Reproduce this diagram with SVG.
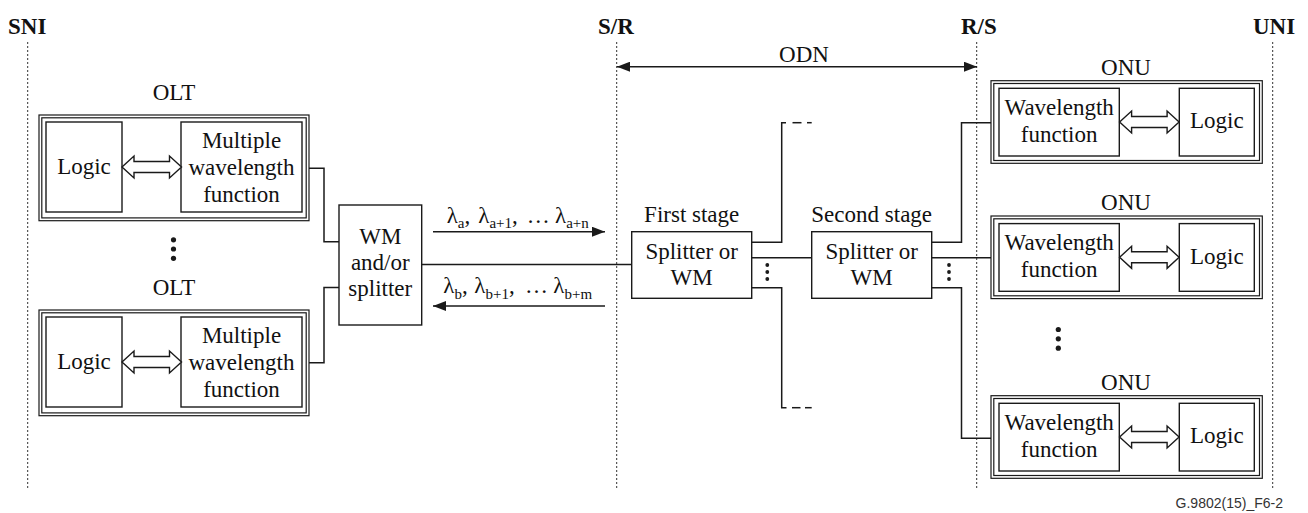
<svg xmlns="http://www.w3.org/2000/svg" xmlns:xlink="http://www.w3.org/1999/xlink" width="1308" height="513" viewBox="0 0 1308 513">
<style>
  .t{font-family:"Liberation Serif","Times New Roman",serif;font-size:23px;fill:#111;text-anchor:middle}
  .h{font-family:"Liberation Serif","Times New Roman",serif;font-size:23px;font-weight:bold;fill:#111}
  .l{font-family:"Liberation Serif","Times New Roman",serif;font-size:23px;fill:#111}
  .s{font-size:15px}
  .box{fill:#fff;stroke:#1a1a1a;stroke-width:1.4}
  .bx2{fill:none;stroke:#1a1a1a;stroke-width:1.2}
  .ln{fill:none;stroke:#1a1a1a;stroke-width:1.5}
  .dot{fill:none;stroke:#333;stroke-width:1;stroke-dasharray:2,2}
  .dbl{fill:#fff;stroke:#1a1a1a;stroke-width:1.4;stroke-linejoin:miter}
  .fn{font-family:"Liberation Sans",Arial,sans-serif;font-size:14px;fill:#333;text-anchor:end}
</style>
<defs>
  <marker id="ah" markerUnits="userSpaceOnUse" markerWidth="13" markerHeight="10" refX="13" refY="5" orient="auto-start-reverse">
    <path d="M0,0 L13,5 L0,10 Z" fill="#1a1a1a"/>
  </marker>
  <path id="dbl" d="M0,0 L12,-11 L12,-5.5 L47.5,-5.5 L47.5,-11 L59.5,0 L47.5,11 L47.5,5.5 L12,5.5 L12,11 Z"/>
</defs>
<rect width="1308" height="513" fill="#fff"/>

<g id="reference-lines">
  <line class="dot" x1="27.7" y1="42" x2="27.7" y2="490"/>
  <line class="dot" x1="616.7" y1="42" x2="616.7" y2="490"/>
  <line class="dot" x1="976.7" y1="42" x2="976.7" y2="490"/>
  <line class="dot" x1="1272.7" y1="42" x2="1272.7" y2="490"/>
  <text class="h" x="8" y="34">SNI</text>
  <text class="h" x="598" y="34">S/R</text>
  <text class="h" x="961" y="34">R/S</text>
  <text class="h" x="1253" y="34">UNI</text>
</g>

<g id="connectors">
  <line class="ln" x1="617" y1="66.7" x2="977" y2="66.7" marker-start="url(#ah)" marker-end="url(#ah)"/>
  <text class="t" x="804" y="62">ODN</text>
  <polyline class="ln" points="309,168.3 324,168.3 324,241.7 339,241.7"/>
  <polyline class="ln" points="309,362.7 324,362.7 324,287.5 339,287.5"/>
  <line class="ln" x1="421.7" y1="264.5" x2="631.7" y2="264.5"/>
  <line class="ln" x1="433" y1="231.7" x2="605" y2="231.7" marker-end="url(#ah)"/>
  <line class="ln" x1="605" y1="306" x2="433" y2="306" marker-end="url(#ah)"/>
  <text class="l" y="222.7"><tspan x="446.7">λ</tspan><tspan class="s" dy="5.5">a</tspan><tspan dy="-5.5">,</tspan><tspan x="478.3">λ</tspan><tspan class="s" dy="5.5">a+1</tspan><tspan dy="-5.5">,</tspan><tspan x="526.7">…</tspan><tspan x="555">λ</tspan><tspan class="s" dy="5.5">a+n</tspan></text>
  <text class="l" y="293.3"><tspan x="443.3">λ</tspan><tspan class="s" dy="5.5">b</tspan><tspan dy="-5.5">,</tspan><tspan x="474.3">λ</tspan><tspan class="s" dy="5.5">b+1</tspan><tspan dy="-5.5">,</tspan><tspan x="525">…</tspan><tspan x="553.3">λ</tspan><tspan class="s" dy="5.5">b+m</tspan></text>
  <polyline class="ln" points="751.7,242.3 781.7,242.3 781.7,122.7 786,122.7"/>
  <line class="ln" x1="792.5" y1="122.7" x2="801.5" y2="122.7"/>
  <line class="ln" x1="807" y1="122.7" x2="811.7" y2="122.7"/>
  <line class="ln" x1="751.7" y1="257.7" x2="811.7" y2="257.7"/>
  <polyline class="ln" points="751.7,287.7 781.7,287.7 781.7,407.7 786.5,407.7"/>
  <line class="ln" x1="792" y1="407.7" x2="800.5" y2="407.7"/>
  <line class="ln" x1="805" y1="407.7" x2="811.7" y2="407.7"/>
  <polyline class="ln" points="931.7,242.3 961.5,242.3 961.5,122.7 991,122.7"/>
  <line class="ln" x1="931.7" y1="257.7" x2="991" y2="257.7"/>
  <polyline class="ln" points="931.7,287.7 961.5,287.7 961.5,438.3 991,438.3"/>
  <g fill="#1a1a1a">
    <circle cx="767.3" cy="265" r="1.9"/><circle cx="767.3" cy="272" r="1.9"/><circle cx="767.3" cy="279" r="1.9"/>
    <circle cx="949" cy="265" r="1.9"/><circle cx="949" cy="272" r="1.9"/><circle cx="949" cy="279" r="1.9"/>
  </g>
</g>

<g id="olt1">
  <text class="t" x="174" y="100">OLT</text>
  <rect class="bx2" x="39" y="115" width="270" height="105.7"/>
  <rect class="bx2" x="41.8" y="117.8" width="264.4" height="100.1"/>
  <rect class="box" x="46" y="122" width="76" height="90"/>
  <rect class="box" x="181" y="122" width="121" height="90"/>
  <text class="t" x="84" y="174">Logic</text>
  <text class="t" x="241.5" y="148.3">Multiple</text>
  <text class="t" x="241.5" y="175">wavelength</text>
  <text class="t" x="241.5" y="201.7">function</text>
  <use href="#dbl" xlink:href="#dbl" class="dbl" x="122" y="167"/>
</g>

<g id="olt-dots" fill="#1a1a1a">
  <circle cx="173.5" cy="239.8" r="2.6"/><circle cx="173.5" cy="249" r="2.6"/><circle cx="173.5" cy="258.3" r="2.6"/>
</g>

<g id="olt2" transform="translate(0,195)">
  <text class="t" x="174" y="100">OLT</text>
  <rect class="bx2" x="39" y="115" width="270" height="105.7"/>
  <rect class="bx2" x="41.8" y="117.8" width="264.4" height="100.1"/>
  <rect class="box" x="46" y="122" width="76" height="90"/>
  <rect class="box" x="181" y="122" width="121" height="90"/>
  <text class="t" x="84" y="174">Logic</text>
  <text class="t" x="241.5" y="148.3">Multiple</text>
  <text class="t" x="241.5" y="175">wavelength</text>
  <text class="t" x="241.5" y="201.7">function</text>
  <use href="#dbl" xlink:href="#dbl" class="dbl" x="122" y="167"/>
</g>

<g id="wm">
  <rect class="box" x="339" y="205" width="82.7" height="120"/>
  <text class="t" x="380.3" y="243.5">WM</text>
  <text class="t" x="380.3" y="270">and/or</text>
  <text class="t" x="380.3" y="295.5">splitter</text>
</g>

<g id="first-stage">
  <text class="t" x="691.7" y="221.7">First stage</text>
  <rect class="box" x="631.7" y="231.7" width="120" height="66.6"/>
  <text class="t" x="691.7" y="259.3">Splitter or</text>
  <text class="t" x="691.7" y="285">WM</text>
</g>

<g id="second-stage">
  <text class="t" x="871.7" y="221.7">Second stage</text>
  <rect class="box" x="811.7" y="231.7" width="120" height="66.6"/>
  <text class="t" x="871.7" y="259.3">Splitter or</text>
  <text class="t" x="871.7" y="285">WM</text>
</g>

<g id="onu1">
  <text class="t" x="1126" y="75.2">ONU</text>
  <rect class="bx2" x="991" y="80.7" width="271.3" height="82.6"/>
  <rect class="bx2" x="993.8" y="83.5" width="265.7" height="77"/>
  <rect class="box" x="999" y="88.3" width="120.3" height="67.7"/>
  <rect class="box" x="1179.3" y="88.3" width="75" height="67.7"/>
  <text class="t" x="1059.2" y="115">Wavelength</text>
  <text class="t" x="1059.2" y="141.7">function</text>
  <text class="t" x="1216.8" y="128.3">Logic</text>
  <use href="#dbl" xlink:href="#dbl" class="dbl" x="1119.6" y="122"/>
</g>

<g id="onu2" transform="translate(0,135.3)">
  <text class="t" x="1126" y="75.2">ONU</text>
  <rect class="bx2" x="991" y="80.7" width="271.3" height="82.6"/>
  <rect class="bx2" x="993.8" y="83.5" width="265.7" height="77"/>
  <rect class="box" x="999" y="88.3" width="120.3" height="67.7"/>
  <rect class="box" x="1179.3" y="88.3" width="75" height="67.7"/>
  <text class="t" x="1059.2" y="115">Wavelength</text>
  <text class="t" x="1059.2" y="141.7">function</text>
  <text class="t" x="1216.8" y="128.3">Logic</text>
  <use href="#dbl" xlink:href="#dbl" class="dbl" x="1119.6" y="122"/>
</g>

<g id="onu-dots" fill="#1a1a1a">
  <circle cx="1058.3" cy="329.5" r="2.6"/><circle cx="1058.3" cy="338.8" r="2.6"/><circle cx="1058.3" cy="348.2" r="2.6"/>
</g>

<g id="onu3" transform="translate(0,315)">
  <text class="t" x="1126" y="75.2">ONU</text>
  <rect class="bx2" x="991" y="80.7" width="271.3" height="82.6"/>
  <rect class="bx2" x="993.8" y="83.5" width="265.7" height="77"/>
  <rect class="box" x="999" y="88.3" width="120.3" height="67.7"/>
  <rect class="box" x="1179.3" y="88.3" width="75" height="67.7"/>
  <text class="t" x="1059.2" y="115">Wavelength</text>
  <text class="t" x="1059.2" y="141.7">function</text>
  <text class="t" x="1216.8" y="128.3">Logic</text>
  <use href="#dbl" xlink:href="#dbl" class="dbl" x="1119.6" y="122"/>
</g>

<text class="fn" x="1283" y="508">G.9802(15)_F6-2</text>
</svg>
